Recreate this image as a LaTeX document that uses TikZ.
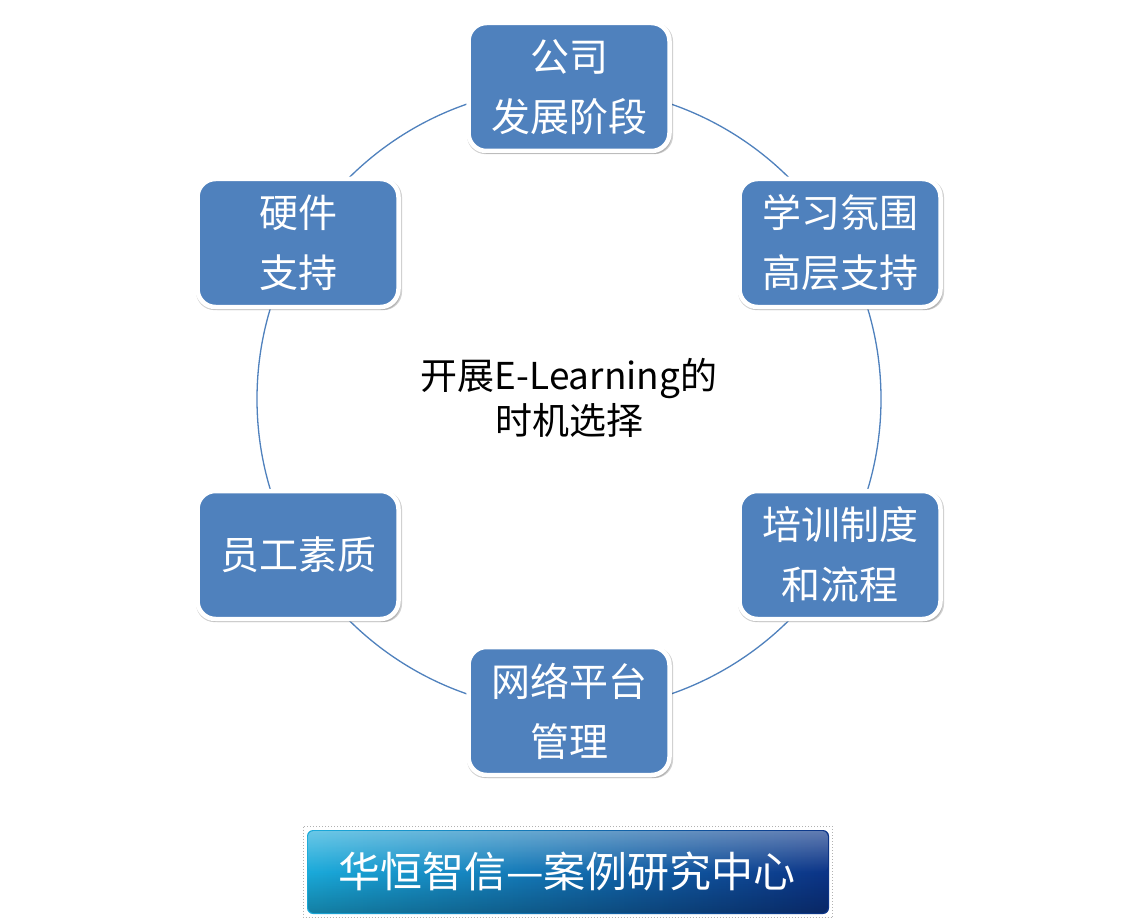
\documentclass[tikz,border=0pt]{standalone}
\usepackage{fontspec}
\setmainfont{Noto Sans CJK SC}
\newfontfamily\cjk{Noto Sans CJK SC}
\usetikzlibrary{shadows,fadings}
\definecolor{boxblue}{RGB}{79,129,189}
\definecolor{ringblue}{RGB}{79,129,189}
\definecolor{bannerL}{RGB}{26,170,218}
\definecolor{bannerR}{RGB}{12,52,135}
\tikzset{
  stagebox/.style={draw=white, line width=4.5pt, fill=boxblue, rounded corners=18pt,
    minimum width=201pt, minimum height=128pt, align=center, text=white,
    font=\cjk\fontsize{39}{60}\selectfont,
    general shadow={shadow scale=1.025, shadow xshift=1pt, shadow yshift=-1.5pt, opacity=0.18, fill=black},
    drop shadow={shadow xshift=2pt, shadow yshift=-3pt, opacity=0.22, fill=black!70}},
  ring/.style={draw=ringblue, line width=1.3pt},
  centertext/.style={align=center, text=black, font=\cjk\fontsize{37}{45}\selectfont},
  bannertext/.style={text=white, font=\cjk\fontsize{42}{44}\selectfont}
}
\begin{document}
\begin{tikzpicture}[x=1pt,y=-1pt]
\useasboundingbox (0,0) rectangle (1138,920);
\fill[white] (0,0) rectangle (1138,920);
\coordinate (c) at (569,399);
\draw[ring] (c) circle[radius=312pt];
\node[stagebox] (n1) at (569,87) {公司\\发展阶段};
\node[stagebox] (n2) at (840,243) {学习氛围\\高层支持};
\node[stagebox] (n3) at (840,555) {培训制度\\和流程};
\node[stagebox] (n4) at (569,711) {网络平台\\管理};
\node[stagebox] (n5) at (298,555) {员工素质};
\node[stagebox] (n6) at (298,243) {硬件\\支持};
\node[centertext] (ct) at (569,398) {开展E-Learning的\\时机选择};
% banner
\draw[gray!60, line width=1pt, dotted] (303.5,826.5) rectangle (832.5,917.5);
\shade[rounded corners=6pt, left color=bannerL, right color=bannerR] (307,830) rectangle (829,914);
\fill[white, opacity=0.35, path fading=south, rounded corners=6pt] (308,831) rectangle (828,872);
\fill[black, opacity=0.25, path fading=north, rounded corners=6pt] (308,872) rectangle (828,913);
\node[bannertext] (bt) at (567,871) {华恒智信—案例研究中心};
\end{tikzpicture}
\end{document}
